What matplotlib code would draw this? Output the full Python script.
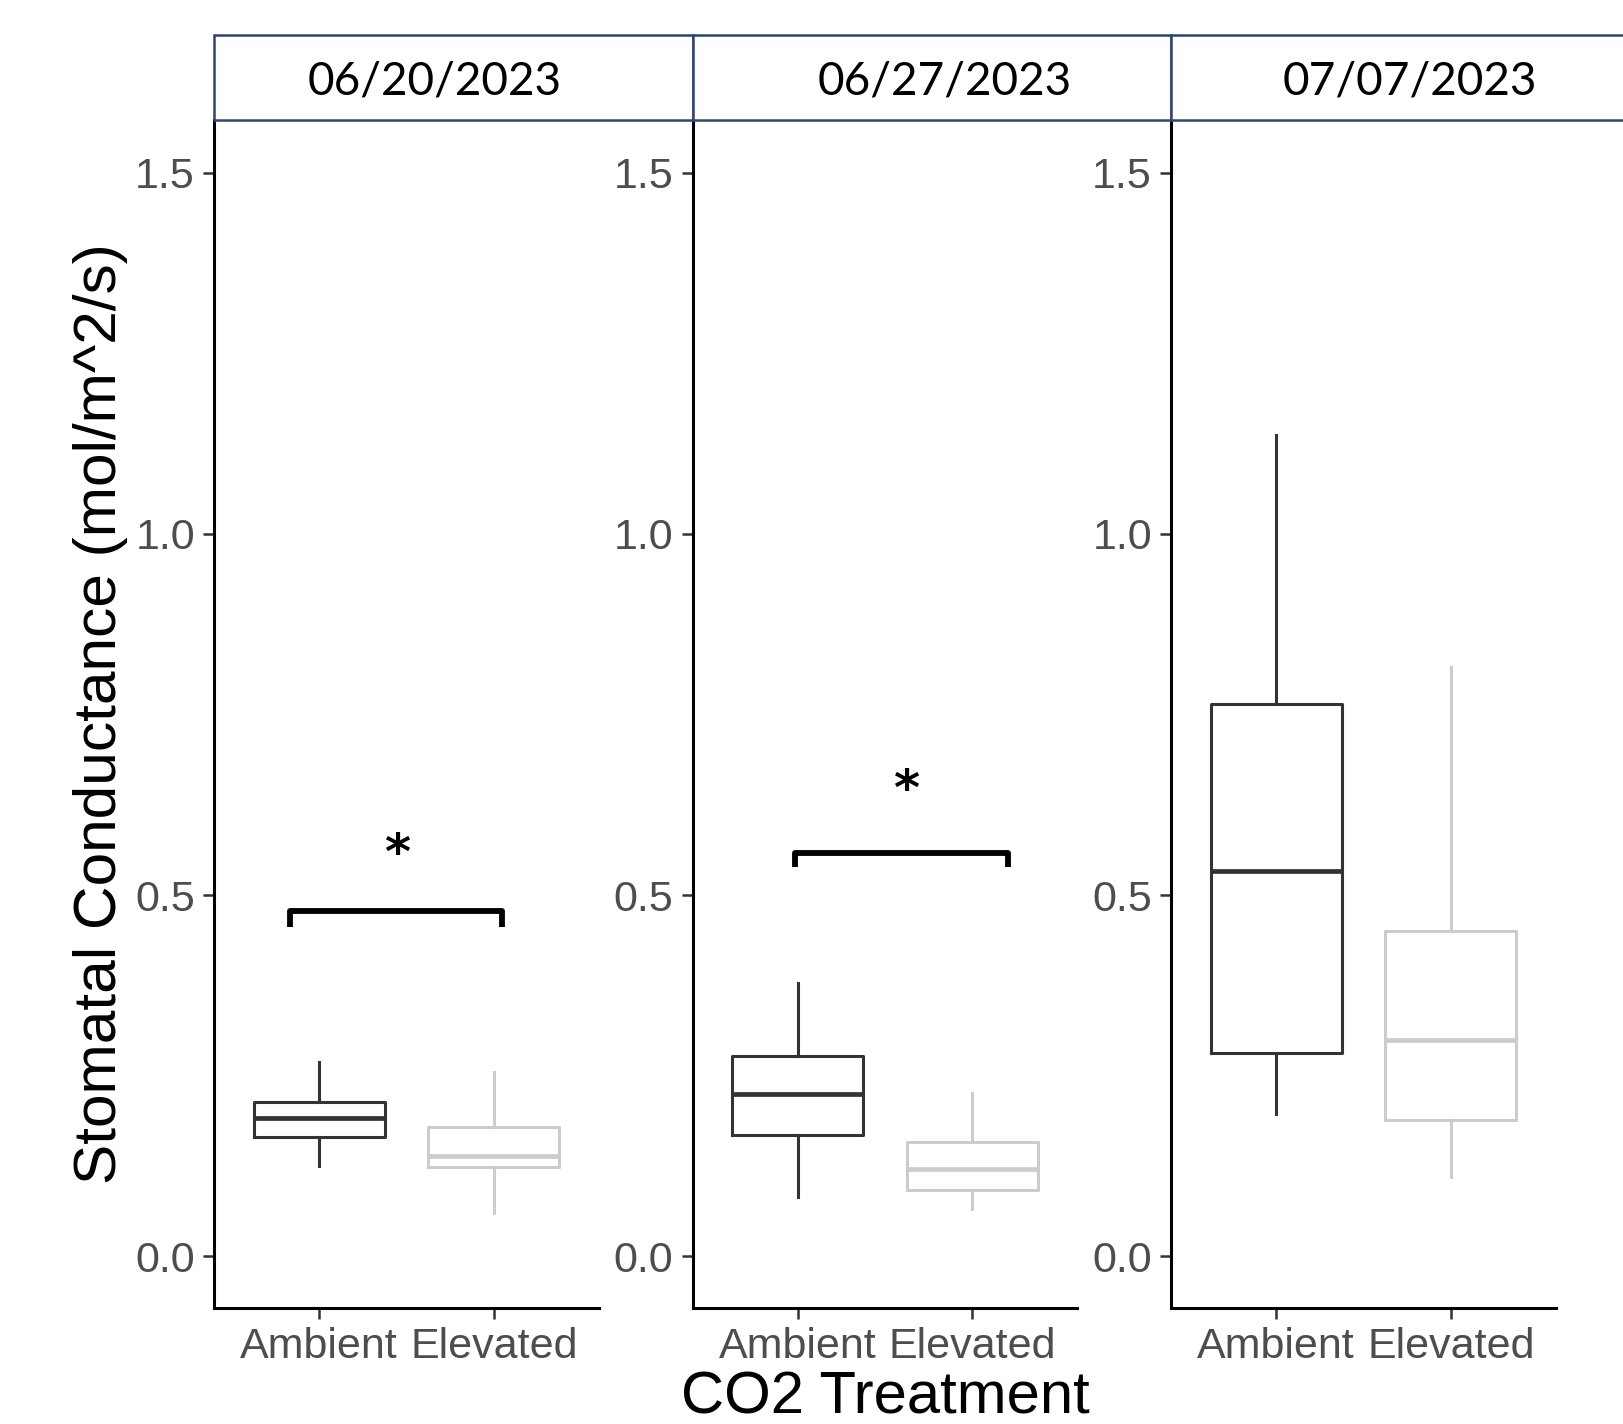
import matplotlib.pyplot as plt
from matplotlib.patches import Rectangle

# data
dates = ["06/20/2023", "06/27/2023", "07/07/2023"]
treatments = ["Ambient", "Elevated"]

# per date: [Ambient, Elevated]
whis_lo = [[0.125, 0.060], [0.082, 0.066], [0.197, 0.110]]
q1 = [[0.165, 0.123], [0.168, 0.092], [0.281, 0.188]]
med = [[0.192, 0.139], [0.224, 0.121], [0.534, 0.300]]
q3 = [[0.213, 0.179], [0.277, 0.158], [0.764, 0.450]]
whis_hi = [[0.269, 0.255], [0.379, 0.226], [1.137, 0.816]]

# significance brackets: (x_left, x_right, y_top, y_leg, star_x, star_y); None = no bracket
brackets = [
    (0.834, 2.046, 0.478, 0.456, 1.444, 0.556),
    (0.986, 2.205, 0.559, 0.539, 1.620, 0.644),
    None,
]

box_colors = ["#333333", "#CCCCCC"]
tick_color = "#4D4D4D"

W, H = 1624, 1424
fig = plt.figure(figsize=(W / 100, H / 100), dpi=100)
plt.rcParams["font.family"] = ["Liberation Sans", "DejaVu Sans"]

panel_left = [214.4, 692.9, 1171.4]
panel_w = 384.2
panel_top = 120.1
panel_bottom = 1308.0
strip_top = 35.2
strip_w = 478.5
strip_text_x = [435.0, 944.6, 1409.6]

for i, date in enumerate(dates):
    ax = fig.add_axes([panel_left[i] / W, 1 - panel_bottom / H,
                       panel_w / W, (panel_bottom - panel_top) / H])
    for j, trt in enumerate(treatments):
        stats = [{
            "med": med[i][j], "q1": q1[i][j], "q3": q3[i][j],
            "whislo": whis_lo[i][j], "whishi": whis_hi[i][j], "fliers": [],
        }]
        c = box_colors[j]
        ax.bxp(stats, positions=[j + 1], widths=0.75, showcaps=False,
               patch_artist=False, manage_ticks=False,
               boxprops=dict(color=c, linewidth=2.2),
               whiskerprops=dict(color=c, linewidth=2.2),
               medianprops=dict(color=c, linewidth=3.4, solid_capstyle="butt"))

    ax.set_xlim(0.4, 2.6)
    ax.set_ylim(-0.0716, 1.573)
    ax.set_xticks([1, 2])
    ax.set_xticklabels(treatments)
    ax.set_yticks([0.0, 0.5, 1.0, 1.5])
    ax.set_yticklabels(["0.0", "0.5", "1.0", "1.5"])
    ax.tick_params(axis="both", labelsize=31, labelcolor=tick_color,
                   color="#333333", length=8, width=1.8, pad=6)
    for s in ["top", "right"]:
        ax.spines[s].set_visible(False)
    for s in ["left", "bottom"]:
        ax.spines[s].set_linewidth(2.2)
        ax.spines[s].set_color("black")

    br = brackets[i]
    if br is not None:
        xl, xr, yt, yl, sx, sy = br
        ax.plot([xl, xl, xr, xr], [yl, yt, yt, yl], color="black",
                linewidth=4.2, solid_joinstyle="round", solid_capstyle="butt")
        ax.text(sx, sy, "*", ha="center", va="center", fontsize=36,
                fontweight="bold", color="black", family="DejaVu Sans")

    if i == 0:
        ax.set_ylabel("Stomatal Conductance (mol/m^2/s)", fontsize=43.5,
                      color="black", labelpad=5)
    if i == 1:
        ax.set_xlabel("CO2 Treatment", fontsize=43, color="black", labelpad=2)

    # facet strip header
    x0 = 214.4 + i * strip_w
    fig.add_artist(Rectangle((x0 / W, 1 - panel_top / H), strip_w / W,
                             (panel_top - strip_top) / H,
                             transform=fig.transFigure, facecolor="white",
                             edgecolor="#2F4470", linewidth=1.8))
    fig.text(strip_text_x[i] / W, 1 - ((panel_top + strip_top) / 2 + 4) / H,
             date, ha="center", va="center", fontsize=33, family="Lato",
             color="black")

fig.savefig("out.png", dpi=100)
